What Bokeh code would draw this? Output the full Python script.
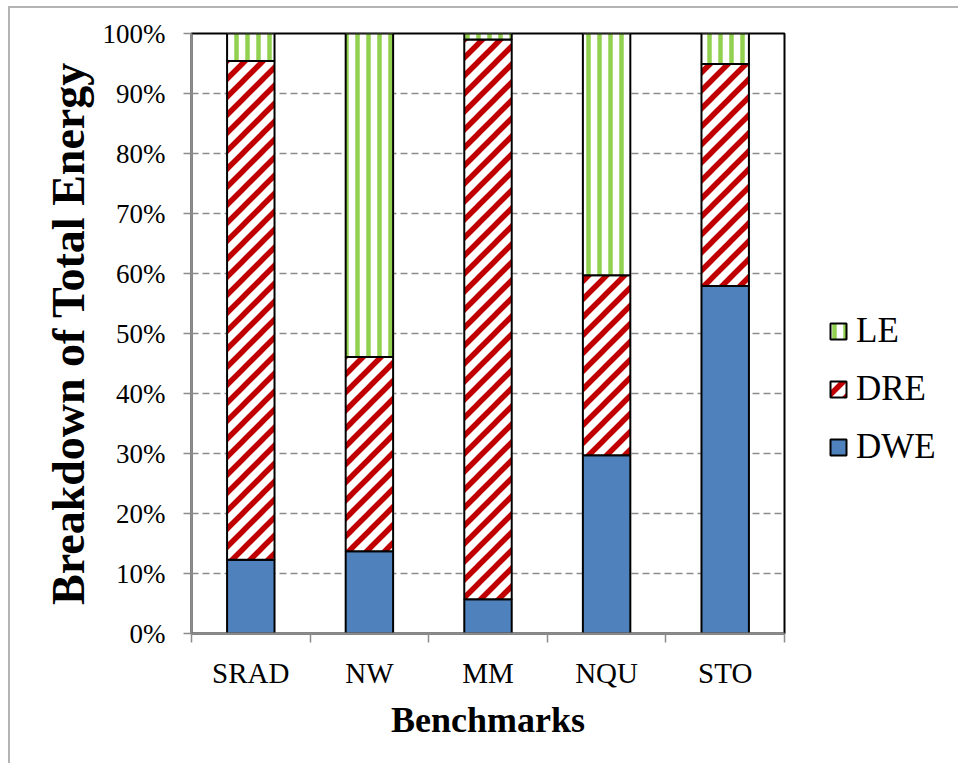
import base64
from bokeh.plotting import figure
from bokeh.models import (Range1d, FixedTicker, PrintfTickFormatter, Legend, LegendItem,
                          ColumnDataSource, CustomJSTickFormatter, ImageURLTexture)
from bokeh.core.properties import value
from bokeh.embed import file_html
from bokeh.resources import INLINE

benchmarks = ["SRAD", "NW", "MM", "NQU", "STO"]
dwe = [12.3, 13.7, 5.7, 29.7, 57.9]
dre = [83.1, 32.4, 93.3, 30.0, 37.0]
le = [4.6, 53.9, 1.0, 40.3, 5.1]
series = ["DWE", "DRE", "LE"]
y_ticks = [0, 10, 20, 30, 40, 50, 60, 70, 80, 90, 100]

x_pos = [i + 0.5 for i in range(len(benchmarks))]
boundaries = list(range(len(benchmarks) + 1))
source = ColumnDataSource(dict(x=x_pos, DWE=dwe, DRE=dre, LE=le))

FONT = "Liberation Serif"
GREY = "#8c8c8c"

# 45-degree red stripe tile for the DRE pattern
tile_svg = ("<svg xmlns='http://www.w3.org/2000/svg' width='18' height='18'>"
            "<rect width='18' height='18' fill='white'/>"
            "<path d='M-5,5 L5,-5 M-5,23 L23,-5 M13,23 L23,13' "
            "stroke='#C00000' stroke-width='5.5'/></svg>")
tile_url = "data:image/svg+xml;base64," + base64.b64encode(tile_svg.encode()).decode()
diag = ImageURLTexture(url=tile_url, repetition="repeat")

p = figure(frame_width=593, frame_height=600, output_backend="svg", toolbar_location=None,
           x_range=Range1d(0, len(benchmarks)), y_range=Range1d(0, 100),
           min_border_left=181, min_border_right=10, min_border_top=25, min_border_bottom=130)
p.styles = {"margin-left": "8px", "margin-top": "6px",
            "border-left": "2px solid #b4b4b4", "border-top": "2px solid #b4b4b4"}

p.outline_line_color = "black"
p.outline_line_width = 2
p.xgrid.grid_line_color = None
p.ygrid.grid_line_color = GREY
p.ygrid.grid_line_dash = "7 4"
p.ygrid.grid_line_width = 1.5
p.ygrid.ticker = FixedTicker(ticks=y_ticks)

renderers = p.vbar_stack(series, x="x", width=0.4, source=source,
                         fill_color=["#4F81BD", "white", "white"],
                         hatch_pattern=[value(" "), value("diag"), value("|")],
                         hatch_extra={"diag": diag},
                         hatch_color=["#4F81BD", "#C00000", "#92D050"],
                         hatch_scale=[12, 18, 11],
                         hatch_weight=[1, 5, 4.5],
                         line_color="black", line_width=2)

# y axis
yax = p.yaxis[0]
yax.ticker = FixedTicker(ticks=y_ticks)
yax.formatter = PrintfTickFormatter(format="%d%%")
yax.axis_line_color = GREY
yax.axis_line_width = 2
yax.major_tick_line_color = GREY
yax.major_tick_line_width = 1.5
yax.major_tick_out = 8
yax.major_tick_in = 0
yax.minor_tick_line_color = None
yax.major_label_text_font = FONT
yax.major_label_text_font_size = "27px"
yax.major_label_text_color = "black"
yax.major_label_standoff = 18
yax.axis_label = "Breakdown of Total Energy"
yax.axis_label_text_font = FONT
yax.axis_label_text_font_style = "bold"
yax.axis_label_text_font_size = "46px"
yax.axis_label_text_color = "black"
yax.axis_label_standoff = 6

# x axis
xax = p.xaxis[0]
xax.ticker = FixedTicker(ticks=x_pos, minor_ticks=boundaries)
xax.formatter = CustomJSTickFormatter(args=dict(cats=benchmarks),
                                      code="const i = Math.floor(tick); return cats[i] || '';")
xax.axis_line_color = GREY
xax.axis_line_width = 2
xax.major_tick_line_color = None
xax.minor_tick_line_color = GREY
xax.minor_tick_line_width = 1.5
xax.minor_tick_out = 9
xax.minor_tick_in = 0
xax.major_label_text_font = FONT
xax.major_label_text_font_size = "29px"
xax.major_label_text_color = "black"
xax.major_label_standoff = 14
xax.axis_label = "Benchmarks"
xax.axis_label_text_font = FONT
xax.axis_label_text_font_style = "bold"
xax.axis_label_text_font_size = "36px"
xax.axis_label_text_color = "black"
xax.axis_label_standoff = 8

legend = Legend(items=[LegendItem(label=s, renderers=[r]) for s, r in
                       reversed(list(zip(series, renderers)))],
                location=(44, 166), orientation="vertical",
                glyph_width=20, glyph_height=20, label_standoff=8,
                label_height=40, spacing=18, padding=0, margin=0,
                border_line_color=None, background_fill_alpha=0,
                label_text_font=FONT, label_text_font_size="35px",
                label_text_color="black")
p.add_layout(legend, "right")

open("out.html", "w").write(file_html(p, INLINE))
